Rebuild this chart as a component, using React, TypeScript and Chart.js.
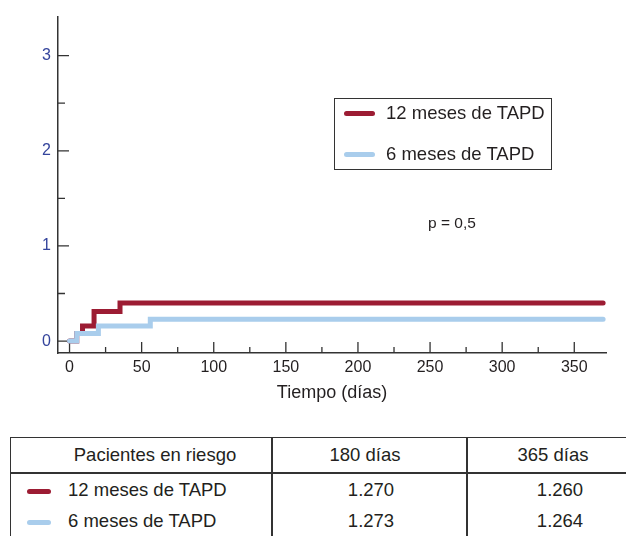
import React, { useEffect, useRef } from "react";
import { Chart, registerables } from "chart.js";

Chart.register(...registerables);

// ---- data ----
const seriesNames = ["12 meses de TAPD", "6 meses de TAPD"];
const series12Days = [0, 5, 9, 17, 35, 370];
const series12Values = [0, 0.08, 0.16, 0.31, 0.4, 0.4];
const series6Days = [0, 5, 20, 56, 370];
const series6Values = [0, 0.08, 0.16, 0.23, 0.23];

const xTicks = [0, 25, 50, 75, 100, 125, 150, 175, 200, 225, 250, 275, 300, 325, 350];
const xLabelTicks = [0, 50, 100, 150, 200, 250, 300, 350];
const yTicks = [0, 0.5, 1, 1.5, 2, 2.5, 3];
const yLabelTicks = [0, 1, 2, 3];

const xTitle = "Tiempo (días)";
const pValueText = "p = 0,5";

const riskHeader = ["Pacientes en riesgo", "180 días", "365 días"];
const risk12 = ["1.270", "1.260"];
const risk6 = ["1.273", "1.264"];

const RED = "#9c1c33";
const BLUE = "#a9cdec";
const FONT = "'Liberation Sans', Arial, Helvetica, sans-serif";
const TEXT = "#231f20";

const tickMarks = {
  id: "tickMarks",
  beforeDatasetsDraw(chart: any) {
    const { ctx, chartArea } = chart;
    const xs = chart.scales.x;
    const ys = chart.scales.y;
    ctx.save();
    ctx.strokeStyle = "#333";
    ctx.lineWidth = 1.3;
    ctx.beginPath();
    for (const v of xTicks) {
      const px = xs.getPixelForValue(v);
      const len = xLabelTicks.includes(v) ? 11 : 6;
      ctx.moveTo(px, chartArea.bottom);
      ctx.lineTo(px, chartArea.bottom - len);
    }
    for (const v of yTicks) {
      const py = ys.getPixelForValue(v);
      const len = yLabelTicks.includes(v) ? 11 : 7;
      ctx.moveTo(chartArea.left, py);
      ctx.lineTo(chartArea.left + len, py);
    }
    ctx.stroke();
    ctx.restore();
  },
};

function KMChart() {
  const ref = useRef<HTMLCanvasElement>(null);
  useEffect(() => {
    if (!ref.current) return;
    const chart = new Chart(ref.current, {
      type: "line",
      data: {
        datasets: [
          {
            label: seriesNames[0],
            data: series12Days.map((d, i) => ({ x: d, y: series12Values[i] })),
            borderColor: RED,
            borderWidth: 5,
            stepped: "before",
            pointRadius: 0,
            borderCapStyle: "round",
            borderJoinStyle: "miter",
            fill: false,
            order: 2,
            clip: false,
          } as any,
          {
            label: seriesNames[1],
            data: series6Days.map((d, i) => ({ x: d, y: series6Values[i] })),
            borderColor: BLUE,
            borderWidth: 5,
            stepped: "before",
            pointRadius: 0,
            borderCapStyle: "round",
            borderJoinStyle: "miter",
            fill: false,
            order: 1,
            clip: false,
          } as any,
        ],
      },
      options: {
        animation: false,
        responsive: false,
        maintainAspectRatio: false,
        layout: { padding: { top: 14, right: 20, left: 0, bottom: 0 } },
        plugins: { legend: { display: false }, tooltip: { enabled: false } },
        scales: {
          x: {
            type: "linear",
            min: -8,
            max: 372,
            afterBuildTicks: (s: any) => {
              s.ticks = xTicks.map((v) => ({ value: v }));
            },
            afterFit: (s: any) => {
              s.height = 67;
            },
            grid: { display: false, drawTicks: false },
            border: { display: true, color: "#333", width: 1.5 },
            ticks: {
              autoSkip: false,
              maxRotation: 0,
              padding: 5,
              color: TEXT,
              font: { family: FONT, size: 16 },
              callback: (v: any) => (xLabelTicks.includes(Number(v)) ? String(v) : ""),
            },
            title: {
              display: true,
              text: xTitle,
              color: TEXT,
              font: { family: FONT, size: 18 },
              padding: { top: 0, bottom: 16 },
            },
          },
          y: {
            type: "linear",
            min: -0.125,
            max: 3.41,
            afterBuildTicks: (s: any) => {
              s.ticks = yTicks.map((v) => ({ value: v }));
            },
            afterFit: (s: any) => {
              s.width = 58;
            },
            grid: { display: false, drawTicks: false },
            border: { display: true, color: "#333", width: 1.5 },
            ticks: {
              autoSkip: false,
              padding: 7,
              color: "#34449c",
              font: { family: FONT, size: 16 },
              callback: (v: any) => (yLabelTicks.includes(Number(v)) ? String(v) : ""),
            },
          },
        },
      },
      plugins: [tickMarks],
    } as any);
    return () => chart.destroy();
  }, []);
  return <canvas ref={ref} width={626} height={420} style={{ position: "absolute", left: 0, top: 0 }} />;
}

const abs = (style: React.CSSProperties): React.CSSProperties => ({ position: "absolute", ...style });

function Swatch({ color, left, top, width }: { color: string; left: number; top: number; width: number }) {
  return (
    <div
      style={abs({
        left,
        top: top - 2.5,
        width,
        height: 5,
        borderRadius: 2.5,
        background: color,
      })}
    />
  );
}

function Label({ text, left, cy, size, center }: { text: string; left: number; cy: number; size: number; center?: boolean }) {
  return (
    <div
      style={abs({
        left,
        top: cy - size * 0.6,
        height: size * 1.2,
        lineHeight: `${size * 1.2}px`,
        fontSize: size,
        fontFamily: FONT,
        color: TEXT,
        whiteSpace: "nowrap",
        transform: center ? "translateX(-50%)" : undefined,
      })}
    >
      {text}
    </div>
  );
}

export default function App() {
  const line = "#333";
  return (
    <div
      style={{
        position: "fixed",
        left: 0,
        top: 0,
        width: 626,
        height: 536,
        overflow: "hidden",
        background: "#fff",
      }}
    >
      <KMChart />
      {/* legend */}
      <div style={abs({ left: 334, top: 98, width: 218, height: 72, border: `1.2px solid ${line}`, boxSizing: "border-box" })} />
      <Swatch color={RED} left={344} top={113.5} width={31} />
      <Swatch color={BLUE} left={344} top={154.5} width={31} />
      <Label text={seriesNames[0]} left={386} cy={113.5} size={18.5} />
      <Label text={seriesNames[1]} left={386} cy={154.5} size={18.5} />
      {/* p value */}
      <Label text={pValueText} left={452} cy={223} size={15.5} center />
      {/* risk table */}
      <div style={abs({ left: 10, top: 437, width: 630, height: 120, border: `1.5px solid ${line}`, boxSizing: "border-box" })} />
      <div style={abs({ left: 10, top: 472, width: 630, height: 1.5, background: line })} />
      <div style={abs({ left: 271, top: 437, width: 1.5, height: 120, background: line })} />
      <div style={abs({ left: 466, top: 437, width: 1.5, height: 120, background: line })} />
      <Label text={riskHeader[0]} left={155} cy={455} size={18.5} center />
      <Label text={riskHeader[1]} left={365} cy={455} size={18.5} center />
      <Label text={riskHeader[2]} left={553} cy={455} size={18.5} center />
      <Swatch color={RED} left={27} top={491} width={24} />
      <Swatch color={BLUE} left={27} top={522.5} width={24} />
      <Label text={seriesNames[0]} left={68} cy={490} size={18.5} />
      <Label text={seriesNames[1]} left={68} cy={521.5} size={18.5} />
      <Label text={risk12[0]} left={371} cy={490} size={18.5} center />
      <Label text={risk6[0]} left={371} cy={521.5} size={18.5} center />
      <Label text={risk12[1]} left={560} cy={490} size={18.5} center />
      <Label text={risk6[1]} left={560} cy={521.5} size={18.5} center />
    </div>
  );
}
